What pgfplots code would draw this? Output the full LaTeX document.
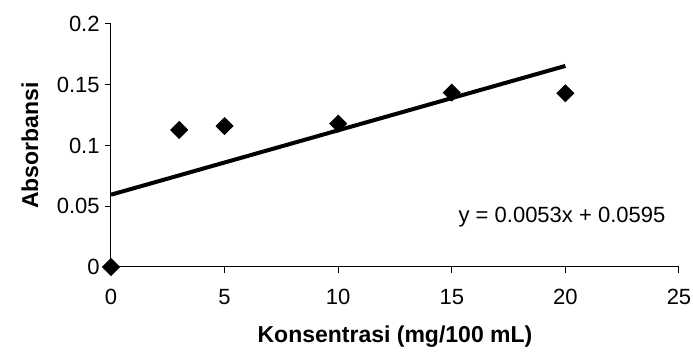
\documentclass[border=0pt]{standalone}
\usepackage{fontspec}
\setmainfont{Liberation Sans}
\usepackage{pgfplots}
\pgfplotsset{compat=1.18}
\begin{document}
\begin{tikzpicture}
\path[use as bounding box] (-55.5pt,-45.5pt) rectangle (291pt,133.5pt);
\begin{axis}[
  at={(0,0)}, anchor=south west,
  scale only axis, width=284pt, height=121.5pt,
  xmin=0, xmax=25, ymin=0, ymax=0.2,
  axis x line*=bottom, axis y line*=left,
  axis line style={line width=0.5pt},
  tick align=outside, major tick length=3pt,
  tick style={line width=0.5pt, black},
  xtick={0,5,10,15,20,25},
  ytick={0,0.05,0.1,0.15,0.2},
  yticklabels={0,0.05,0.1,0.15,0.2},
  /pgf/number format/assume math mode=true,
  ticklabel style={font=\fontsize{11}{13}\selectfont},
  xticklabel style={yshift=-4.5pt},
  yticklabel style={inner sep=2.5pt},
  xlabel={Konsentrasi (mg/100 mL)},
  ylabel={Absorbansi},
  label style={font=\fontsize{11.5}{14}\selectfont\bfseries},
  xlabel style={at={(axis description cs:0.5,-0.288)}, anchor=center},
  ylabel style={at={(axis description cs:-0.1426,0.5)}, anchor=center},
  clip=false,
]
\addplot[only marks, mark=square*, mark size=3pt, mark options={rotate=45, fill=black, draw=black}]
  coordinates {(0,0) (3,0.1128) (5,0.116) (10,0.118) (15,0.1435) (20,0.143)};
\addplot[line width=2pt, black] coordinates {(0,0.0595) (20,0.1655)};
\node[font=\fontsize{11}{13}\selectfont, anchor=center] at (axis cs:19.85,0.0412) {y = 0.0053x + 0.0595};
\end{axis}
\end{tikzpicture}
\end{document}
